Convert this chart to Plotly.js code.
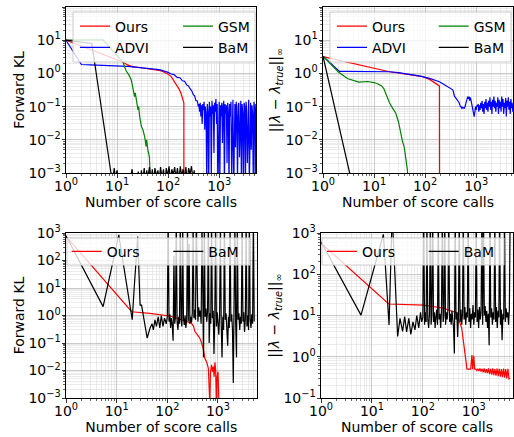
<!DOCTYPE html>
<html><head><meta charset="utf-8">
<script src="https://cdn.plot.ly/plotly-3.0.1.min.js"></script>
<style>html,body{margin:0;padding:0;background:#fff}#chart{width:514px;height:437px}</style>
</head><body><div id="chart"></div>
<script>
// ---------- shared x grids (score calls) ----------
const gridA = [400,412,424,437,450,463,477,491,506,521,537,553,569,586,604,622,641,660,680,700,721,743,765,788,811,836,861,887,913,941,969,998,1028,1059,1090,1123,1157,1191,1227,1264,1302,1341,1381,1422,1465,1509,1554,1601,1649,1698,1749,1801,1855,1911,1968,2027,2088,2151,2215,2282,2350,2420,2493,2568,2645,2724,2806,2890,2977,3066,3158,3253,3350,3451,3554,3661,3771,3884,4000,4120,4244,4371,4502,4637,4776,4920,5067,5200];
const gridB = [100,104,108,112,116,120,125,130,135,140,145,150,156,162,168,174,180,187,194,201,208,216,224,232,241,250,259,269,279,289,300,311,323,335,347,360,373,387,401,416,432,448,465,482,500,519,538,558,579,600,622,645,669,694,720,747,775,804,834,865,897,930,965,1001,1038,1077,1117,1158,1201,1246,1292,1340,1390,1442,1496,1552,1610,1670,1732,1796,1863,1932,2004,2079,2156,2236,2319,2405,2495,2588,2684,2784,2888,2995,3106,3222,3342,3466,3595,3729,3868,4012,4161,4316,4477,4643,4816,4995,5181];

// ---------- top-left: Forward KL ----------
const tlOursX = [1,13,16,20,30,40,50,60,70,80,90,100,115,133,150,167,180,194,203,204];
const tlOursY = [10,2.2,1.8,1.6,1.48,1.4,1.34,1.27,1.2,1.12,1.03,0.95,0.8,0.56,0.43,0.32,0.24,0.16,0.13,1e-6];
const tlAdviPreX = [1,2,3,4,6,8,10,13,16,20,25,30,40,50,60,70,80,90,100,115,130,150,170,190,210,230,250,270,290,310,330,350,370,390];
const tlAdviPreY = [10,1.85,1.8,1.78,1.75,1.72,1.68,1.65,1.62,1.58,1.54,1.5,1.43,1.38,1.33,1.27,1.2,1.13,1.07,0.96,0.92,0.76,0.74,0.6,0.58,0.45,0.42,0.34,0.3,0.23,0.21,0.15,0.15,0.1];
const tlAdviNoiseY = [0.12,0.07,0.13,0.05,0.11,0.03,0.12,0.08,0.14,0.02,0.1,0.06,0.0005,0.12,0.07,0.0003,0.14,0.05,0.1,0.0008,0.15,0.06,0.11,0.004,0.13,0.07,0.17,0.03,0.12,0.0002,0.09,0.14,0.0006,0.11,0.05,0.13,0.008,0.1,0.15,0.0003,0.12,0.06,0.11,0.002,0.13,0.07,0.0004,0.12,0.05,0.14,0.001,0.1,0.16,0.0002,0.08,0.12,0.006,0.14,0.05,0.0005,0.11,0.13,0.003,0.09,0.15,0.0003,0.12,0.06,0.0008,0.13,0.1,0.0002,0.14,0.07,0.002,0.12,0.16,0.0004,0.1,0.13,0.005,0.11,0.06,0.0006,0.14,0.09,0.0003,0.12];
const tlGsmX = [1,3,5.3,13,15,17,19,20.5,22,22.7,24,25.7,26.5,27.7,30,32,34.7,37,38,40,43,45,47];
const tlGsmY = [10,10.3,10.3,2.2,1.2,0.9,0.63,0.35,0.2,0.26,0.16,0.08,0.1,0.05,0.025,0.02,0.0125,0.0063,0.01,0.005,0.003,0.001,0.0001];
const tlBamX = [1,3.2,7.6,8.2,8.8,9.3,10,11,13,15,17,19.7,21,24,26,28,30,32,34,36,38,40,43,46,49,52,55,59,63,67,71,76,81,86,92,98,104,111,118,126,134,143,152,162,173,184,196,209,222,237,252,268,286,304,324,335];
const tlBamY = [10,8,0.001,0.0006,0.0014,0.0007,0.0012,0.0005,0.0004,0.0005,0.0004,0.0013,0.0005,0.0004,0.0011,0.0005,0.0012,0.0006,0.0014,0.0005,0.0012,0.0007,0.0015,0.0006,0.0013,0.0005,0.0014,0.0008,0.0012,0.0006,0.0015,0.0007,0.0013,0.0005,0.0014,0.0008,0.0016,0.0006,0.0013,0.0009,0.0015,0.0007,0.0014,0.0006,0.0016,0.0008,0.0013,0.0007,0.0015,0.0006,0.0014,0.0009,0.0016,0.0007,0.0012,0.0003];

// ---------- top-right: ||lambda - lambda_true||_inf ----------
const trOursX = [1,20,50,90,122,150,170,190,192];
const trOursY = [3.2,1.12,0.92,0.8,0.66,0.53,0.45,0.42,1e-6];
const trAdviPreX = [1,2.1,3,5,8,12,20,30,50,80,122,160,190,230,276,320,347,360,373];
const trAdviPreY = [3.3,1.15,1.15,1.15,1.15,1.14,1.12,1.05,0.95,0.83,0.71,0.62,0.56,0.47,0.4,0.35,0.32,0.27,0.21];
const trAdviNoiseY = [0.18,0.17,0.16,0.16,0.14,0.13,0.11,0.1,0.1,0.09,0.095,0.09,0.093,0.09,0.1,0.12,0.13,0.18,0.2,0.17,0.2,0.15,0.19,0.16,0.12,0.09,0.08,0.06,0.05,0.07,0.1,0.08,0.11,0.1,0.12,0.07,0.11,0.08,0.13,0.09,0.15,0.07,0.12,0.06,0.14,0.09,0.17,0.08,0.13,0.07,0.15,0.1,0.19,0.08,0.14,0.06,0.16,0.1,0.2,0.09,0.15,0.07,0.13,0.1,0.19,0.06,0.16,0.09,0.14,0.07,0.2,0.1,0.17,0.06,0.13,0.09,0.18,0.05,0.15,0.1,0.19,0.08,0.14,0.06,0.17,0.09,0.13,0.07];
const trGsmX = [1,2,3,4,5,7.5,10,12,14,15.5,17,18.5,20,23,26.5,30,33,36,39,42,45,48];
const trGsmY = [3.3,1.1,0.7,0.6,0.55,0.57,0.53,0.48,0.42,0.35,0.25,0.17,0.13,0.09,0.064,0.035,0.016,0.009,0.006,0.003,0.0012,0.0001];
const trBamX = [1,4];
const trBamY = [3.3,0.00029];

// ---------- bottom-left: Forward KL ----------
const blOursX = [1,19.8,45,77,112,150,191,223,260,300,330,350,390,437,475,510,550,595,645,675,690,710,745,780,810,840,870,900,935,960,1000,1040,1090];
const blOursY = [760,1.37,1.2,1.05,0.96,0.82,0.69,0.6,0.57,0.52,0.4,0.26,0.2,0.15,0.1,0.064,0.028,0.021,0.012,0.0022,0.0006,0.008,0.016,0.009,0.014,0.006,0.02,0.01,0.0004,0.006,0.009,0.0008,0.0001];
const blBamPreX = [1,5.4,11,19,20.3,22,26,29,31,40,45.6,50,53,57,61,66,71,76,82,88,95];
const blBamPreY = [800,2.1,850,1.9,0.7,8,750,2.4,2.4,0.15,0.35,0.5,0.3,0.7,0.4,0.9,0.35,1.0,0.4,0.8,0.5];
const blBamNoiseY = [0.9,3000,0.6,1.1,0.35,0.8,0.45,0.12,150,0.5,0.9,3000,0.6,0.3,0.9,0.5,3000,0.7,0.4,3000,0.8,0.45,1.0,0.35,0.7,3000,0.6,400,0.5,0.9,0.55,1.2,3000,0.8,1.6,0.7,3000,1.3,0.6,2.0,0.9,1.5,0.5,3000,1.1,0.03,3000,0.9,1.8,0.6,1.4,3000,0.1,1.2,0.5,3000,0.8,1.5,0.04,1.0,3000,0.4,1.3,0.6,0.2,1.1,3000,0.5,0.03,0.9,0.3,3000,0.7,1.2,0.4,0.08,0.9,0.35,3000,0.6,1.1,0.3,0.0035,0.8,3000,0.5,0.03,3000,0.7,1.2,0.3,0.9,0.5,3000,0.6,1.3,0.25,0.8,3000,0.4,1.0,0.3,3000,0.7,0.35,1.1,0.5,3000,0.6];

// ---------- bottom-right: ||lambda - lambda_true||_inf ----------
const brOursX = [1,21.4,104,257,470,500,580,630,675,735,800,870,920,950,1000,1040,1100,1150,1200,1260,1320,1390,1460,1530,1600,1680,1760,1850,1940,2040,2140,2250,2360,2480,2600,2730,2870,3010,3160,3320,3490,3660,3850,4040,4240,4450,4680,4910,5150];
const brOursY = [570,19,17.8,15,11.5,8.5,4.9,2.3,1.0,0.5,0.5,0.5,1.1,0.5,1.05,0.5,0.5,0.46,0.51,0.45,0.52,0.44,0.51,0.42,0.52,0.41,0.5,0.4,0.52,0.38,0.51,0.37,0.52,0.36,0.5,0.35,0.52,0.34,0.51,0.33,0.5,0.32,0.52,0.31,0.5,0.3,0.51,0.29,0.3];
const brBamPreX = [1,6.1,16.8,21.7,25,32,35.6,40,44,48,53,58,64,70,76,83,90,95];
const brBamPreY = [615,10.2,930,5.9,3000,3.1,8.5,4.1,9.4,4,8.5,3.5,7,4.5,10,5,12,7];
const brBamNoiseY = [9,3000,6,12,7,3000,8,5,11,3000,6,10,3000,7,12,5,9,14,6,3000,8,11,5,13,3000,7,10,3000,6,12,8,14,3000,7,11,6,13,9,5,1.2,3000,8,12,3.0,10,3000,7,14,6,11,3000,8,16,6,12,9,3000,7,15,5,11,8,18,6,12,9,3000,7,14,5,16,8,12,3000,6,3000,10,17,7,13,5,11,1.9,3000,9,15,6,12,8,3000,7,16,5,13,9,3000,6,14,2.5,11,8,3000,7,15,9,12,6,14,3000];

// ---------- styling ----------
const W = 514, H = 437;
const FONT = 'DejaVu Sans';
const C = {ours:'#ff0000', advi:'#0000ff', gsm:'#008000', bam:'#000000'};
const LW = 1.2;

function minorVals(lo, hi){ const v=[]; for(let k=lo;k<=hi;k++){ for(let d=2;d<=9;d++) v.push(d*Math.pow(10,k)); } return v; }
function sup(n){ return '10<sup>' + (n<0 ? '\u2212'+(-n) : n) + '</sup>'; }
function logTicks(lo, hi){ const tv=[], tt=[]; for(let k=lo;k<=hi;k++){ tv.push(Math.pow(10,k)); tt.push(sup(k)); } return {tickvals:tv, ticktext:tt}; }

function axis(domain, anchor, range, tlo, thi, title, isX){
  const t = logTicks(tlo, thi);
  return {
    type:'log', domain:domain, anchor:anchor, range:range,
    tickmode:'array', tickvals:t.tickvals, ticktext:t.ticktext,
    showline:true, mirror:true, linecolor:'#000', linewidth:1,
    ticks:'outside', ticklen:3.5, tickwidth:0.8, tickcolor:'#000',
    ticklabelstandoff: isX ? -3 : -2,
    showgrid:true, gridcolor:'#bdbdbd', gridwidth:0.8, zeroline:false,
    minor:{tickmode:'array', tickvals:minorVals(-4,4), ticks:'outside', ticklen:2, tickwidth:0.6, tickcolor:'#000', showgrid:true, gridcolor:'#dedede', gridwidth:0.6},
    tickfont:{family:FONT, size:14, color:'#000'},
    title:{text:title, font:{family:FONT, size:14, color:'#000'}, standoff:0},
    automargin:false
  };
}

function px(x){ return x/W; }
function py(y){ return 1 - y/H; }

const xTL=[px(66),px(256)], xTR=[px(323),px(513)], xBL=[px(66),px(256.5)], xBR=[px(321),px(513)];
const yTop=[py(173),py(7)], yBot=[py(398),py(233)];

const lamTitle = '||<i>λ</i> \u2212 <i>λ</i><sub><i>true</i></sub>||<sub>\u221e</sub>';

function tr(x, y, name, color, xa, ya, legend){
  return {x:x, y:y, name:name, type:'scatter', mode:'lines', line:{color:color, width:LW}, xaxis:xa, yaxis:ya, legend:legend, hoverinfo:'skip'};
}

const data = [
  tr(tlOursX, tlOursY, 'Ours', C.ours, 'x', 'y', 'legend'),
  tr(tlAdviPreX.concat(gridA), tlAdviPreY.concat(tlAdviNoiseY), 'ADVI', C.advi, 'x', 'y', 'legend'),
  tr(tlGsmX, tlGsmY, 'GSM', C.gsm, 'x', 'y', 'legend2'),
  tr(tlBamX, tlBamY, 'BaM', C.bam, 'x', 'y', 'legend2'),

  tr(trOursX, trOursY, 'Ours', C.ours, 'x2', 'y2', 'legend3'),
  tr(trAdviPreX.concat(gridA), trAdviPreY.concat(trAdviNoiseY), 'ADVI', C.advi, 'x2', 'y2', 'legend3'),
  tr(trGsmX, trGsmY, 'GSM', C.gsm, 'x2', 'y2', 'legend4'),
  tr(trBamX, trBamY, 'BaM', C.bam, 'x2', 'y2', 'legend4'),

  tr(blOursX, blOursY, 'Ours', C.ours, 'x3', 'y3', 'legend5'),
  tr(blBamPreX.concat(gridB), blBamPreY.concat(blBamNoiseY), 'BaM', C.bam, 'x3', 'y3', 'legend6'),

  tr(brOursX, brOursY, 'Ours', C.ours, 'x4', 'y4', 'legend7'),
  tr(brBamPreX.concat(gridB), brBamPreY.concat(brBamNoiseY), 'BaM', C.bam, 'x4', 'y4', 'legend8')
];

function leg(xpx, ypx){
  return {x:px(xpx), y:py(ypx), xanchor:'left', yanchor:'top', orientation:'v', bgcolor:'rgba(0,0,0,0)', borderwidth:0,
          font:{family:FONT, size:14, color:'#000'}, itemwidth:30, tracegroupgap:0};
}

function frame(x0,x1,y0,y1){
  return {type:'rect', xref:'paper', yref:'paper', x0:px(x0), x1:px(x1), y0:py(y1), y1:py(y0),
          fillcolor:'rgba(255,255,255,0.8)', line:{color:'#cccccc', width:1}, layer:'above'};
}

const layout = {
  width:W, height:H, margin:{l:0,r:0,t:0,b:0},
  paper_bgcolor:'#fff', plot_bgcolor:'#fff',
  font:{family:FONT, size:14, color:'#000'},
  xaxis: axis(xTL, 'y', [0,3.72], 0, 3, 'Number of score calls', true),
  yaxis: axis(yTop, 'x', [-3,2], -3, 2, 'Forward KL', false),
  xaxis2: axis(xTR, 'y2', [0,3.72], 0, 3, 'Number of score calls', true),
  yaxis2: axis(yTop, 'x2', [-3,2], -3, 2, lamTitle, false),
  xaxis3: axis(xBL, 'y3', [0,3.76], 0, 3, 'Number of score calls', true),
  yaxis3: axis(yBot, 'x3', [-3,3], -3, 3, 'Forward KL', false),
  xaxis4: axis(xBR, 'y4', [0,3.77], 0, 3, 'Number of score calls', true),
  yaxis4: axis(yBot, 'x4', [-1,3], -1, 3, lamTitle, false),
  legend: leg(75, 10.5),
  legend2: leg(178, 10.5),
  legend3: leg(332, 10.5),
  legend4: leg(433.7, 10.5),
  legend5: leg(66.7, 235.7),
  legend6: leg(168.3, 235.7),
  legend7: leg(322, 235.7),
  legend8: leg(423.7, 235.7),
  shapes: [
    frame(73, 255, 12, 62),
    frame(330, 511, 12, 62),
    frame(67, 250, 238, 265),
    frame(322, 504, 238, 265)
  ],
  showlegend:true
};

Plotly.newPlot('chart', data, layout, {staticPlot:true, displayModeBar:false});
</script></body></html>
